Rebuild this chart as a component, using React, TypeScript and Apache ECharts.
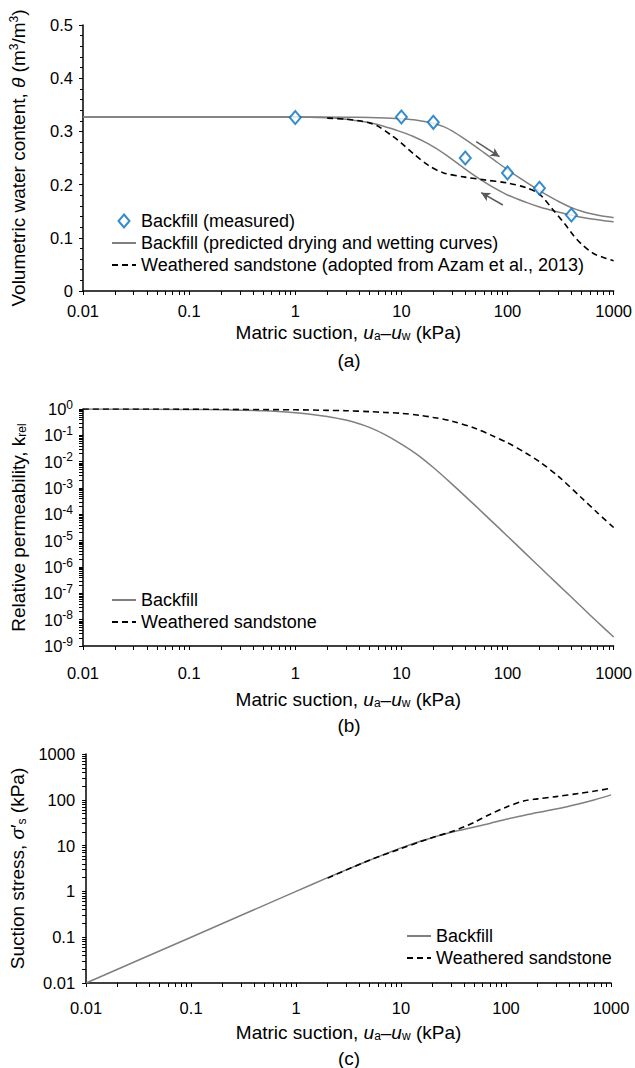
import React, { useEffect, useRef } from 'react';
import * as echarts from 'echarts';

const FONT = '"Liberation Sans", Arial, Helvetica, sans-serif';
const GRAY = '#7f7f7f';
const BLUE = '#0070c0';

// ---------- (a) soil-water characteristic ----------
const measuredSuction = [1, 10, 20, 40, 100, 200, 400];
const measuredTheta = [0.326, 0.327, 0.317, 0.25, 0.222, 0.193, 0.143];

const dryingSuction = [0.01, 1, 3, 5, 7, 10, 14, 20, 25, 30, 40, 50, 60, 75, 100, 130, 160, 200, 250, 300, 400, 500, 600, 800, 1000];
const dryingTheta = [0.327, 0.327, 0.3268, 0.3262, 0.3253, 0.3238, 0.321, 0.3155, 0.309, 0.301, 0.285, 0.2715, 0.26, 0.246, 0.228, 0.2126, 0.2009, 0.1888, 0.1774, 0.1687, 0.1568, 0.1498, 0.1455, 0.1405, 0.1381];

const wettingSuction = [0.01, 1, 2, 3, 4.5, 6.2, 9, 12.8, 18, 26.3, 40, 54, 70, 100, 150, 200, 300, 400, 600, 1000];
const wettingTheta = [0.327, 0.327, 0.3255, 0.323, 0.318, 0.312, 0.302, 0.291, 0.2765, 0.256, 0.229, 0.211, 0.197, 0.1805, 0.1665, 0.158, 0.1485, 0.1425, 0.136, 0.13];

const sandSwccSuction = [2, 3, 4, 5, 6, 8, 10, 13, 18, 25, 40, 60, 100, 150, 200, 270, 350, 420, 500, 640, 800, 1000];
const sandSwccTheta = [0.325, 0.323, 0.32, 0.316, 0.31, 0.293, 0.278, 0.258, 0.236, 0.222, 0.214, 0.209, 0.203, 0.194, 0.182, 0.152, 0.125, 0.104, 0.088, 0.071, 0.063, 0.057];

// hysteresis arrows: [from, to] in (suction, theta)
const arrowDrying = [[50.7, 0.2806], [84, 0.2524]];
const arrowWetting = [[90.4, 0.1617], [56.5, 0.1848]];

// ---------- (b) relative permeability ----------
const kBackfillSuction = [0.01, 0.1, 0.2, 0.5, 1, 1.5, 2, 3, 4, 5, 7, 10, 14, 20, 30, 50, 70, 100, 150, 200, 300, 500, 700, 1000];
const kBackfill = [1, 0.959, 0.933, 0.851, 0.72, 0.61, 0.52, 0.38, 0.275, 0.2, 0.107, 0.0468, 0.019, 6.0e-3, 1.41e-3, 2.09e-4, 5.75e-5, 1.48e-5, 3.09e-6, 1.02e-6, 2.14e-7, 3.02e-8, 8.3e-9, 2.19e-9];

const kSandSuction = [0.01, 0.1, 1, 2, 3, 5, 7, 10, 15, 20, 30, 50, 70, 100, 150, 200, 300, 500, 700, 1000];
const kSand = [1, 0.99, 0.933, 0.89, 0.86, 0.794, 0.741, 0.684, 0.575, 0.479, 0.347, 0.182, 0.102, 0.0525, 0.0209, 0.01, 2.82e-3, 4.17e-4, 1.17e-4, 3.16e-5];

// ---------- (c) suction stress ----------
const sBackfillSuction = [0.01, 0.1, 1, 2, 3, 5, 7, 10, 15, 20, 30, 50, 70, 100, 150, 200, 300, 500, 700, 1000];
const sBackfill = [0.01, 0.1, 1, 2, 2.95, 4.8, 6.5, 8.9, 12.3, 15, 19.5, 25.5, 30.5, 37.5, 46, 53, 63, 82, 100, 128];

const sSandSuction = [2, 5, 10, 15, 20, 30, 40, 50, 70, 100, 150, 200, 300, 500, 700, 1000];
const sSand = [1.95, 4.8, 8.6, 12, 15.1, 20, 25.7, 32.4, 47.9, 69, 95.5, 104.7, 117.5, 138, 155, 178];

// tick labels
const suctionTickLabels = ['0.01', '0.1', '1', '10', '100', '1000'];
const suctionTickValues = [0.01, 0.1, 1, 10, 100, 1000];
const permTickExps = ['-9', '-8', '-7', '-6', '-5', '-4', '-3', '-2', '-1', '0'];
const permTickValues = [1e-9, 1e-8, 1e-7, 1e-6, 1e-5, 1e-4, 1e-3, 1e-2, 1e-1, 1];
const stressTickLabels = ['0.01', '0.1', '1', '10', '100', '1000'];
const stressTickValues = [0.01, 0.1, 1, 10, 100, 1000];

function logTicks(minExp: number, maxExp: number): number[] {
  const out: number[] = [];
  for (let e = minExp; e < maxExp; e++) {
    for (let m = 1; m <= 9; m++) out.push(parseFloat((m * Math.pow(10, e)).toPrecision(6)));
  }
  out.push(parseFloat(Math.pow(10, maxExp).toPrecision(6)));
  return out;
}

const zip = (xs: number[], ys: number[]) => xs.map((x, i) => [x, ys[i]]);
const expIndex = (v: number) => Math.round(Math.log10(v));

const NAME_SIZE = 19;
const TICK_SIZE = 16.5;
const LEGEND_SIZE = 18;

const richStyles = {
  i: { fontFamily: FONT, fontSize: NAME_SIZE, fontStyle: 'italic', color: '#000' },
  sup: { fontFamily: FONT, fontSize: 12, color: '#000', padding: [0, 0, 8, 0] },
  sub: { fontFamily: FONT, fontSize: 12, color: '#000', padding: [8, 0, 0, 0] },
  pr: { fontFamily: FONT, fontSize: NAME_SIZE, color: '#000' },
};

const nameStyle = { fontFamily: FONT, fontSize: NAME_SIZE, color: '#000', rich: richStyles };
const axisLineStyle = { show: true, lineStyle: { color: '#000', width: 1.5 } };
const labelStyle = { fontFamily: FONT, fontSize: TICK_SIZE, color: '#000' };
const tickStyle = { show: true, length: 4, inside: false, lineStyle: { color: '#000', width: 1 } };

const suctionName = 'Matric suction, {i|u}{sub|a}\u2013{i|u}{sub|w} (kPa)';

function xAxisFor(gridIndex: number, labelMargin: number, nameGap: number) {
  return {
    type: 'log',
    gridIndex,
    logBase: 10,
    min: 0.01,
    max: 1000,
    axisLine: axisLineStyle,
    axisTick: { ...tickStyle, customValues: logTicks(-2, 3) },
    axisLabel: {
      ...labelStyle,
      margin: labelMargin,
      customValues: suctionTickValues,
      formatter: (v: number) => suctionTickLabels[expIndex(v) + 2],
    },
    splitLine: { show: false },
    name: suctionName,
    nameLocation: 'middle',
    nameGap,
    nameTextStyle: nameStyle,
  };
}

const DIAMOND_ICON = 'path://M0,-6.5L5.5,0L0,6.5L-5.5,0Z';
const lineItem = (name: string) => ({ name, itemStyle: { opacity: 0 } });

function legendFor(left: number, top: number, data: any[]) {
  return {
    orient: 'vertical',
    left,
    top,
    itemWidth: 24,
    itemHeight: 13,
    itemGap: 4,
    selectedMode: false,
    textStyle: { fontFamily: FONT, fontSize: LEGEND_SIZE, color: '#000' },
    data,
  };
}

function panelLabel(text: string, y: number) {
  return {
    type: 'text',
    x: 349,
    y,
    style: { text, x: 0, y: 0, align: 'center', verticalAlign: 'middle', font: NAME_SIZE + 'px ' + FONT, fill: '#000' },
  };
}

function lineSeries(name: string, xi: number, data: number[][], dashed: boolean, extra: any = {}) {
  return {
    name,
    type: 'line',
    xAxisIndex: xi,
    yAxisIndex: xi,
    data,
    showSymbol: false,
    symbol: 'none',
    smooth: 0.3,
    lineStyle: dashed ? { color: '#000', width: 1.6, type: [6, 4] } : { color: GRAY, width: 1.5 },
    itemStyle: { color: dashed ? '#000' : GRAY },
    ...extra,
  };
}

export default function App() {
  const ref = useRef<HTMLDivElement>(null);

  useEffect(() => {
    if (!ref.current) return;
    const chart = echarts.init(ref.current, undefined, { renderer: 'svg' });

    const option: any = {
      animation: false,
      backgroundColor: '#fff',
      grid: [
        { left: 83, top: 25, width: 531, height: 266 },
        { left: 83, top: 409, width: 531, height: 237 },
        { left: 83, top: 754, width: 528, height: 229 },
      ],
      xAxis: [xAxisFor(0, 11, 31), xAxisFor(1, 18, 43), xAxisFor(2, 16, 39)],
      yAxis: [
        {
          type: 'value',
          gridIndex: 0,
          min: 0,
          max: 0.5,
          interval: 0.1,
          axisLine: axisLineStyle,
          axisTick: tickStyle,
          minorTick: { show: true, splitNumber: 5, length: 3, lineStyle: { color: '#000', width: 1 } },
          axisLabel: { ...labelStyle, margin: 10 },
          splitLine: { show: false },
          name: 'Volumetric water content, {i|\u03b8} (m{sup|3}/m{sup|3})',
          nameLocation: 'middle',
          nameGap: 55,
          nameTextStyle: nameStyle,
        },
        {
          type: 'log',
          gridIndex: 1,
          logBase: 10,
          min: 1e-9,
          max: 1,
          axisLine: axisLineStyle,
          axisTick: { ...tickStyle, customValues: logTicks(-9, 0) },
          axisLabel: {
            ...labelStyle,
            margin: 10,
            customValues: permTickValues,
            formatter: (v: number) => '{b|10}{s|' + permTickExps[expIndex(v) + 9] + '}',
            rich: {
              b: { fontFamily: FONT, fontSize: TICK_SIZE, color: '#000' },
              s: { fontFamily: FONT, fontSize: 12, color: '#000', padding: [0, 0, 9, 0] },
            },
          },
          splitLine: { show: false },
          name: 'Relative permeability, k{sub|rel}',
          nameLocation: 'middle',
          nameGap: 55,
          nameTextStyle: nameStyle,
        },
        {
          type: 'log',
          gridIndex: 2,
          logBase: 10,
          min: 0.01,
          max: 1000,
          axisLine: axisLineStyle,
          axisTick: { ...tickStyle, customValues: logTicks(-2, 3) },
          axisLabel: {
            ...labelStyle,
            margin: 11,
            customValues: stressTickValues,
            formatter: (v: number) => stressTickLabels[expIndex(v) + 2],
          },
          splitLine: { show: false },
          name: 'Suction stress, {i|\u03c3}{pr|\u2032}{sub|s} (kPa)',
          nameLocation: 'middle',
          nameGap: 55,
          nameTextStyle: nameStyle,
        },
      ],
      legend: [
        legendFor(106, 207, [
          { name: 'Backfill (measured)', icon: DIAMOND_ICON },
          lineItem('Backfill (predicted drying and wetting curves)'),
          lineItem('Weathered sandstone (adopted from Azam et al., 2013)'),
        ]),
        legendFor(106, 586, [lineItem('Backfill'), lineItem('Weathered sandstone')]),
        legendFor(401, 922, [lineItem('Backfill'), lineItem('Weathered sandstone')]),
      ],
      graphic: [panelLabel('(a)', 360), panelLabel('(b)', 725), panelLabel('(c)', 1058)],
      series: [
        lineSeries('Backfill (predicted drying and wetting curves)', 0, zip(dryingSuction, dryingTheta), false, {
          markLine: {
            silent: true,
            symbol: ['none', 'arrow'],
            symbolSize: [7, 9],
            label: { show: false },
            lineStyle: { color: '#595959', width: 1.5, type: 'solid' },
            data: [
              [{ coord: arrowDrying[0] }, { coord: arrowDrying[1] }],
              [{ coord: arrowWetting[0] }, { coord: arrowWetting[1] }],
            ],
          },
        }),
        lineSeries('Backfill (predicted drying and wetting curves)', 0, zip(wettingSuction, wettingTheta), false),
        lineSeries('Weathered sandstone (adopted from Azam et al., 2013)', 0, zip(sandSwccSuction, sandSwccTheta), true),
        {
          name: 'Backfill (measured)',
          type: 'scatter',
          xAxisIndex: 0,
          yAxisIndex: 0,
          data: zip(measuredSuction, measuredTheta),
          symbol: 'diamond',
          symbolSize: [11, 13],
          itemStyle: { color: '#fff', borderColor: BLUE, borderWidth: 2 },
          z: 5,
        },
        lineSeries('Backfill', 1, zip(kBackfillSuction, kBackfill), false),
        lineSeries('Weathered sandstone', 1, zip(kSandSuction, kSand), true),
        lineSeries('Backfill', 2, zip(sBackfillSuction, sBackfill), false),
        lineSeries('Weathered sandstone', 2, zip(sSandSuction, sSand), true),
      ],
    };

    chart.setOption(option);
    return () => chart.dispose();
  }, []);

  return (
    <div
      ref={ref}
      style={{ position: 'absolute', left: 0, top: 0, width: 635, height: 1068, background: '#fff' }}
    />
  );
}
